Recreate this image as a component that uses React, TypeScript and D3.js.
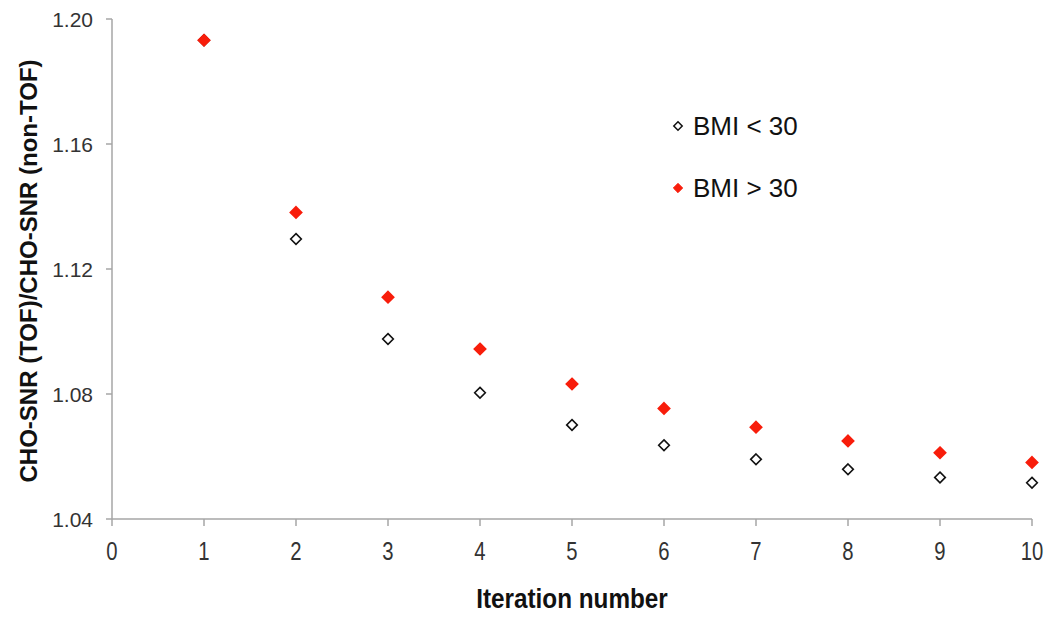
import React from "react";
import * as d3 from "d3";

const iterations = [1, 2, 3, 4, 5, 6, 7, 8, 9, 10];
const bmiUnder30 = [1.1932, 1.1296, 1.0976, 1.0804, 1.0701, 1.0636, 1.0591, 1.0559, 1.0533, 1.0516];
const bmiOver30 = [1.1932, 1.1381, 1.111, 1.0944, 1.0832, 1.0754, 1.0694, 1.065, 1.0612, 1.0581];
const xTicks = [0, 1, 2, 3, 4, 5, 6, 7, 8, 9, 10];
const yTicks = [1.04, 1.08, 1.12, 1.16, 1.2];
const seriesNames = ["BMI < 30", "BMI > 30"];

const W = 1050;
const H = 617;

export default function App() {
  const x = d3.scaleLinear().domain([0, 10]).range([112, 1032]);
  const y = d3.scaleLinear().domain([1.04, 1.2]).range([519, 19]);
  const diamond = d3.symbol().type(d3.symbolDiamond2).size(72)() as string;
  const diamondRed = d3.symbol().type(d3.symbolDiamond2).size(80)() as string;
  const axisColor = "#a6a6a6";
  const sans = "'Liberation Sans', Arial, sans-serif";

  return (
    <svg width={W} height={H} style={{ position: "absolute", left: 0, top: 0, background: "#fff" }}>
      {/* axes */}
      <line x1={x(0)} x2={x(0)} y1={y(1.2)} y2={y(1.04)} stroke={axisColor} strokeWidth={1.5} />
      <line x1={x(0)} x2={x(10)} y1={y(1.04)} y2={y(1.04)} stroke={axisColor} strokeWidth={1.5} />
      {yTicks.map((t) => (
        <g key={"y" + t}>
          <line x1={x(0) - 6} x2={x(0)} y1={y(t)} y2={y(t)} stroke={axisColor} strokeWidth={1.5} />
          <text x={93} y={y(t)} dy="0.36em" textAnchor="end" fontFamily={sans} fontSize={21} fill="#333">
            {t.toFixed(2)}
          </text>
        </g>
      ))}
      {xTicks.map((t) => (
        <g key={"x" + t}>
          <line x1={x(t)} x2={x(t)} y1={y(1.04)} y2={y(1.04) + 7} stroke={axisColor} strokeWidth={1.5} />
          <text
            transform={`translate(${x(t)},551) scale(0.78,1)`}
            dy="0.36em"
            textAnchor="middle"
            fontFamily={sans}
            fontSize={26}
            fill="#333"
          >
            {t}
          </text>
        </g>
      ))}
      <text
        transform="translate(572,598) scale(0.9,1)"
        dy="0.36em"
        textAnchor="middle"
        fontFamily={sans}
        fontWeight="bold"
        fontSize={27}
        fill="#111"
      >
        Iteration number
      </text>
      <text
        transform={`translate(28,${271}) rotate(-90)`}
        dy="0.36em"
        textAnchor="middle"
        fontFamily={sans}
        fontWeight="bold"
        fontSize={24}
        fill="#111"
      >
        CHO-SNR (TOF)/CHO-SNR (non-TOF)
      </text>
      {/* data */}
      {iterations.map((it, i) => (
        <path
          key={"u" + it}
          d={diamond}
          transform={`translate(${x(it)},${y(bmiUnder30[i])})`}
          fill="#fff"
          stroke="#111"
          strokeWidth={1.6}
        />
      ))}
      {iterations.map((it, i) => (
        <path
          key={"o" + it}
          d={diamondRed}
          transform={`translate(${x(it)},${y(bmiOver30[i])})`}
          fill="#f81d0b"
          stroke="#f81d0b"
          strokeWidth={1.8}
        />
      ))}
      {/* legend */}
      <path d={d3.symbol().type(d3.symbolDiamond2).size(45)() as string} transform="translate(678,126)" fill="#fff" stroke="#111" strokeWidth={1.5} />
      <text x={693} y={126} dy="0.36em" fontFamily={sans} fontSize={26} fill="#111">
        {seriesNames[0]}
      </text>
      <path d={d3.symbol().type(d3.symbolDiamond2).size(55)() as string} transform="translate(678,188)" fill="#f81d0b" stroke="#f81d0b" strokeWidth={1} />
      <text x={693} y={188} dy="0.36em" fontFamily={sans} fontSize={26} fill="#111">
        {seriesNames[1]}
      </text>
    </svg>
  );
}
